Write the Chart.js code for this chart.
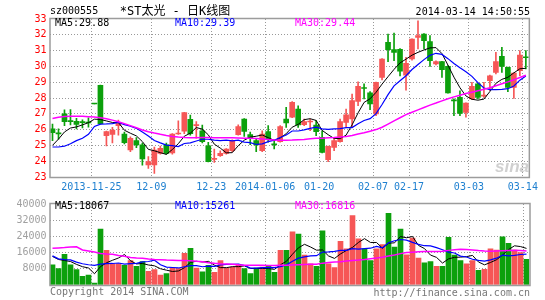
<!DOCTYPE html>
<html>
<head>
<meta charset="utf-8">
<script src="https://cdn.jsdelivr.net/npm/chart.js@4/dist/chart.umd.min.js"></script>
<style>
  body { margin:0; background:#fff; width:545px; height:300px; overflow:hidden; position:relative;
         font-family:"DejaVu Sans Mono", monospace; font-size:10px; }
  canvas { position:absolute; left:0; }
  #priceChart { top:0; }
  #volChart { top:195px; }
  .t { position:absolute; white-space:nowrap; line-height:12px; }
</style>
</head>
<body>
<canvas id="priceChart" width="545" height="200"></canvas>
<canvas id="volChart" width="545" height="100"></canvas>

<div class="t" style="left:50px;top:5px">sz000555</div>
<div class="t" style="left:175px;top:4px;transform:translateX(-50%);font-size:12px;line-height:14px;font-family:'DejaVu Sans Mono','Noto Sans CJK SC',sans-serif">*ST太光 - 日K线图</div>
<div class="t" style="right:15px;top:6px">2014-03-14 14:50:55</div>
<div class="t" style="left:55px;top:17px;color:#000">MA5:29.88</div>
<div class="t" style="left:175px;top:17px;color:#0000ff">MA10:29.39</div>
<div class="t" style="left:295px;top:17px;color:#ff00ff">MA30:29.44</div>
<div class="t" style="left:55px;top:200px;color:#000">MA5:18067</div>
<div class="t" style="left:175px;top:200px;color:#0000ff">MA10:15261</div>
<div class="t" style="left:295px;top:200px;color:#ff00ff">MA30:16816</div>
<div class="t" style="left:50px;top:286px;color:#777">Copyright 2014 SINA.COM</div>
<div class="t" style="right:15px;top:287px;color:#777">http://finance.sina.com.cn</div>
<div class="t" style="left:495px;top:157px;font:italic bold 17px 'Liberation Sans',sans-serif;color:rgba(170,170,170,0.55)">sina</div>

<script>
// trading days shown (one suspended day in mid January)
const dates = [
  '2013-11-14','2013-11-15','2013-11-18','2013-11-19','2013-11-20','2013-11-21','2013-11-22','2013-11-25','2013-11-26','2013-11-27',
  '2013-11-28','2013-11-29','2013-12-02','2013-12-03','2013-12-04','2013-12-05','2013-12-06','2013-12-09','2013-12-10','2013-12-11',
  '2013-12-12','2013-12-13','2013-12-16','2013-12-17','2013-12-18','2013-12-19','2013-12-20','2013-12-23','2013-12-24','2013-12-25',
  '2013-12-26','2013-12-27','2013-12-30','2013-12-31','2014-01-02','2014-01-03','2014-01-06','2014-01-07','2014-01-08','2014-01-09',
  '2014-01-10','2014-01-14','2014-01-15','2014-01-16','2014-01-17','2014-01-20','2014-01-21','2014-01-22','2014-01-23','2014-01-24',
  '2014-01-27','2014-01-28','2014-01-29','2014-01-30','2014-02-07','2014-02-10','2014-02-11','2014-02-12','2014-02-13','2014-02-14',
  '2014-02-17','2014-02-18','2014-02-19','2014-02-20','2014-02-21','2014-02-24','2014-02-25','2014-02-26','2014-02-27','2014-02-28',
  '2014-03-03','2014-03-04','2014-03-05','2014-03-06','2014-03-07','2014-03-10','2014-03-11','2014-03-12','2014-03-13','2014-03-14'
];
const tickIndex = [7, 17, 27, 36, 45, 54, 60, 70, 79];
const tickText = ['2013-11-25','12-09','12-23','2014-01-06','01-20','02-07','02-17','03-03','03-14'];

const opens = [
  26.05,25.8,27.0,26.55,26.52,26.48,26.46,27.63,28.8,25.62,
  25.7,26.25,25.72,24.72,25.3,25.03,23.77,23.76,24.5,25.03,
  24.52,25.72,25.9,26.65,26.25,25.93,24.98,24.12,24.35,24.5,
  24.67,25.68,26.67,25.68,25.3,24.67,25.87,25.08,25.24,26.67,
  26.78,27.3,26.31,26.48,26.29,25.51,24.1,24.88,25.24,26.46,
  26.67,27.79,28.63,28.32,26.99,29.3,31.52,31.06,31.08,29.45,
  30.47,31.84,32.05,31.57,30.15,30.3,30.0,27.86,28.04,27.09,
  27.94,28.89,28.12,29.1,29.62,30.64,29.94,28.67,29.73,30.6
];
const highs = [
  26.35,26.05,27.25,27.27,26.72,26.62,26.75,27.64,28.82,25.9,
  26.15,26.6,25.85,25.55,25.5,25.15,24.3,24.9,24.95,25.15,
  25.75,26.55,27.1,26.92,26.5,26.29,25.2,24.77,24.65,24.8,
  25.35,26.3,26.7,25.85,25.45,25.93,26.25,25.3,26.25,27.41,
  27.77,27.5,26.67,26.67,26.57,25.93,24.95,25.51,26.67,27.3,
  28.25,29.03,28.89,28.4,29.0,30.5,32.05,32.11,31.12,30.57,
  31.75,32.89,32.07,31.95,30.35,30.32,30.05,27.94,28.46,27.7,
  28.99,28.95,28.99,29.45,30.89,31.21,29.95,29.6,31.0,31.0
];
const lows = [
  25.3,25.4,26.25,26.3,26.05,26.1,26.15,27.62,26.35,24.97,
  25.15,25.65,25.1,24.6,24.85,23.75,23.55,23.23,24.45,24.45,
  24.45,25.7,25.75,25.65,25.45,25.15,23.95,23.93,24.3,24.45,
  24.6,25.65,25.57,25.05,24.6,24.6,25.2,24.77,25.2,26.14,
  26.75,26.14,26.25,25.93,25.62,24.52,23.97,24.67,25.2,26.14,
  26.14,27.51,27.94,27.26,26.88,29.15,30.3,30.36,29.4,28.5,
  30.4,31.1,31.1,30.0,30.1,29.31,28.3,26.88,26.88,26.78,
  27.9,27.94,28.04,28.46,29.52,29.62,28.4,27.98,29.41,29.84
];
const closes = [
  25.8,25.72,26.5,26.5,26.33,26.44,26.42,27.62,26.38,25.87,
  25.97,26.4,25.17,25.45,25.03,24.15,23.97,24.71,24.82,24.5,
  25.72,25.78,27.08,25.75,26.3,25.24,23.97,24.15,24.5,24.77,
  25.3,26.19,25.89,25.47,25.03,25.72,25.36,25.03,26.19,26.42,
  27.73,26.29,26.5,26.52,25.87,24.56,24.94,25.3,26.5,26.94,
  27.83,28.74,28.6,27.62,28.99,30.47,31.06,30.89,29.7,30.19,
  31.73,31.95,31.63,30.36,30.3,29.79,28.32,27.82,27.03,27.68,
  28.74,28.04,28.16,29.41,30.3,30.0,28.67,29.58,30.72,30.55
];
const ma5 = [
  25.0,25.4,25.85,26.1,26.17,26.30,26.44,26.66,26.64,26.55,
  26.45,26.45,25.96,25.77,25.60,25.24,24.75,24.66,24.54,24.43,
  24.74,25.11,25.58,25.77,26.13,26.03,25.67,25.08,24.83,24.53,
  24.54,24.98,25.33,25.52,25.58,25.66,25.49,25.32,25.47,25.74,
  26.15,26.33,26.63,26.69,26.58,25.95,25.68,25.44,25.43,25.65,
  26.30,27.06,27.72,27.95,28.36,28.88,29.35,29.81,30.22,30.46,
  30.71,30.89,31.04,31.17,31.19,30.81,30.08,29.32,28.65,28.13,
  27.92,27.86,27.93,28.41,28.93,29.18,29.31,29.59,29.85,29.88
];
const ma10 = [
  24.9,24.9,24.95,25.1,25.3,25.45,25.7,26.2,26.35,26.36,
  26.38,26.45,26.31,26.21,26.08,25.85,25.60,25.31,25.16,25.02,
  24.99,24.93,25.12,25.16,25.28,25.39,25.39,25.33,25.30,25.33,
  25.29,25.33,25.21,25.18,25.06,25.10,25.24,25.33,25.50,25.66,
  25.91,25.91,25.98,26.08,26.16,26.05,26.01,26.04,26.06,26.12,
  26.13,26.37,26.58,26.69,27.01,27.59,28.21,28.77,29.09,29.41,
  29.80,30.12,30.43,30.70,30.83,30.76,30.49,30.18,29.91,29.66,
  29.37,28.97,28.63,28.53,28.53,28.55,28.59,28.76,29.13,29.39
];
const ma30 = [
  26.7,26.78,26.83,26.85,26.85,26.84,26.82,26.8,26.75,26.68,
  26.6,26.5,26.38,26.25,26.12,25.98,25.87,25.78,25.7,25.63,
  25.57,25.53,25.5,25.49,25.49,25.5,25.5,25.49,25.48,25.48,
  25.48,25.47,25.46,25.45,25.43,25.4,25.37,25.34,25.33,25.33,
  25.34,25.36,25.38,25.42,25.45,25.46,25.48,25.5,25.53,25.57,
  25.63,25.72,25.8,25.9,26.0,26.15,26.35,26.55,26.75,26.95,
  27.1,27.25,27.4,27.55,27.68,27.82,27.95,28.07,28.18,28.28,
  28.37,28.46,28.55,28.65,28.78,28.9,29.02,29.15,29.3,29.44
];

const volumes = [
  10000,8100,15200,10000,7600,4300,4900,1000,27600,17100,
  10500,10500,9700,12100,9200,11600,6800,7600,4900,5700,
  8400,8100,15700,18100,8400,6500,9700,6200,12100,8400,
  8900,9700,8100,5700,8400,8900,9400,6200,17100,17100,
  26300,25200,14800,10500,9200,26800,10500,8600,21600,17900,
  34300,22800,17900,12100,17900,20000,35400,18700,27600,14900,
  23200,13300,10900,11600,9200,9200,23500,14800,12100,10500,
  12100,7300,7800,17900,17300,23800,20600,17200,16000,12700
];
const volMa5 = [
  14100,12600,12100,11600,10180,9040,8400,5560,9080,10980,
  12220,13340,15080,11980,10400,10620,9880,9460,8020,7320,
  6680,6940,8560,11200,11740,11360,11680,9780,8580,8580,
  9060,9060,9440,8160,8160,8160,8100,7720,10000,11740,
  15220,18380,20100,18780,17200,17300,14360,13120,15340,17080,
  18580,21040,22900,21000,21000,18140,20660,20820,23920,23320,
  23960,19540,17980,14780,13640,10840,12880,13660,13760,14020,
  14600,11360,9960,11120,12480,14820,17480,19360,18980,18067
];
const volMa10 = [
  14400,12900,12500,12400,11300,10500,10000,9700,10300,10580,
  10630,10870,10320,10530,10690,11420,11610,12270,10000,8860,
  8650,8410,9010,9610,9530,9020,9310,9170,9890,10160,
  10210,10370,9610,8370,8370,8610,8580,8580,9080,9950,
  11690,13240,13910,14390,14470,16260,16370,16610,17060,17140,
  17940,17700,18010,18170,19040,18360,20850,21860,22460,22160,
  21050,20100,19400,19350,18480,17400,16210,15820,14270,13830,
  12720,12120,11810,12440,13250,14710,14420,14660,15050,15261
];
const volMa30 = [
  18100,18300,18500,18800,18900,17300,16800,16300,15600,15300,
  15200,14600,14200,13600,13300,13200,12800,12600,12500,12300,
  12200,12100,12100,12000,11700,11500,11000,10700,10500,10400,
  10300,10000,9800,9700,9700,9700,9600,9600,9700,9800,
  9900,10000,10100,10200,10300,10800,11100,11300,11500,11800,
  12100,12300,12600,13000,13300,13700,14300,14800,15500,16000,
  16200,16400,16500,16500,16600,16700,17100,17400,17600,17500,
  17300,17000,16800,16700,16800,16900,17000,17100,17000,16816
];

const RED = '#f65656', GREEN = '#0ca00c';
const GRID = '#999999', CLEAR = 'rgba(0,0,0,0)';
const DOTS = [1, 2];
const MONO = { family: 'DejaVu Sans Mono', size: 10 };
const colors = opens.map((o, i) => closes[i] >= o ? RED : GREEN);

// grey frame round each plot
const frame = {
  id: 'frame',
  afterDraw(chart) {
    const a = chart.chartArea, ctx = chart.ctx;
    ctx.save();
    ctx.setLineDash([]);
    ctx.strokeStyle = '#9c9c9c';
    ctx.lineWidth = 1.5;
    ctx.strokeRect(a.left + 0.5, a.top - 0.5, a.right - a.left, a.bottom - a.top + 1);
    ctx.restore();
  }
};

function xScale(showLabels) {
  return {
    offset: true,
    grid: { offset: true, drawTicks: false, lineWidth: 1,
            color: c => tickIndex.includes(c.index) ? GRID : CLEAR },
    border: { display: false, dash: DOTS },
    ticks: {
      display: showLabels, autoSkip: false, maxRotation: 0, padding: 4, labelOffset: -3,
      color: '#1f80d0', font: MONO,
      callback: (v, i) => { const k = tickIndex.indexOf(i); return k < 0 ? '' : tickText[k]; }
    },
    afterFit: s => { s.height = showLabels ? 23 : 0; }
  };
}

function yGrid(lo, hi) {
  return { drawTicks: false, lineWidth: 1,
           color: c => (c.tick && (c.tick.value === lo || c.tick.value === hi)) ? CLEAR : GRID };
}

function maLine(data, color, width) {
  return { type: 'line', data: data, borderColor: color, borderWidth: width,
           pointRadius: 0, tension: 0, order: 0 };
}

Chart.defaults.font.family = 'DejaVu Sans Mono';
Chart.defaults.animation = false;

new Chart(document.getElementById('priceChart'), {
  type: 'bar',
  data: {
    labels: dates,
    datasets: [
      maLine(ma30, '#ff00ff', 1.5),
      maLine(ma10, '#0000ff', 1.2),
      maLine(ma5, '#000000', 1),
      { data: opens.map((o, i) => [o, closes[i]]), backgroundColor: colors, barThickness: 5,
        minBarLength: 1, grouped: false, order: 1 },
      { data: lows.map((l, i) => [l, highs[i]]), backgroundColor: colors, barThickness: 1,
        grouped: false, order: 2 }
    ]
  },
  options: {
    responsive: false,
    layout: { padding: { top: 19, right: 15.5, left: 0, bottom: 0 } },
    plugins: { legend: { display: false }, tooltip: { enabled: false } },
    scales: {
      x: xScale(true),
      y: {
        min: 23, max: 33,
        grid: yGrid(23, 33),
        border: { display: false, dash: DOTS },
        ticks: { stepSize: 1, padding: 3, color: '#ff0000', font: MONO },
        afterFit: s => { s.width = 49.5; }
      }
    }
  },
  plugins: [frame]
});

new Chart(document.getElementById('volChart'), {
  type: 'bar',
  data: {
    labels: dates,
    datasets: [
      maLine(volMa30, '#ff00ff', 1.5),
      maLine(volMa10, '#0000ff', 1.2),
      maLine(volMa5, '#000000', 1),
      { data: volumes, backgroundColor: colors, barThickness: 5, grouped: false, order: 1 }
    ]
  },
  options: {
    responsive: false,
    layout: { padding: { top: 6, right: 15.5, left: 0, bottom: 10 } },
    plugins: { legend: { display: false }, tooltip: { enabled: false } },
    scales: {
      x: xScale(false),
      y: {
        min: 0, max: 40000,
        grid: yGrid(0, 40000),
        border: { display: false, dash: DOTS },
        ticks: { stepSize: 8000, padding: 3, color: '#a0a0a0', font: MONO,
                 callback: v => v === 0 ? '' : v },
        afterFit: s => { s.width = 49.5; }
      }
    }
  },
  plugins: [frame]
});
</script>
</body>
</html>
